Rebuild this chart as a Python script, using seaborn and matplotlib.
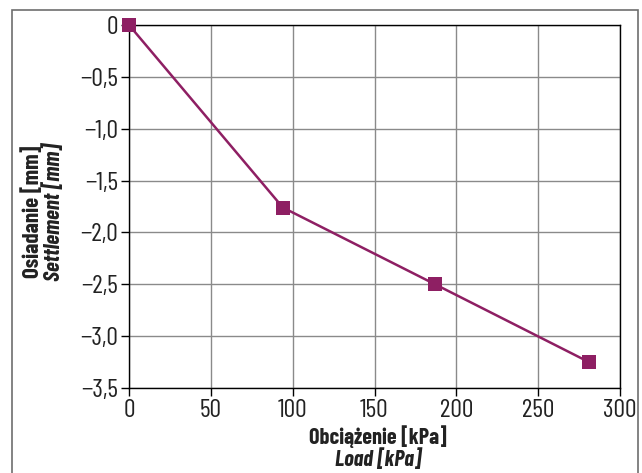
import matplotlib
matplotlib.use("Agg")
import matplotlib.pyplot as plt
import seaborn as sns
import pandas as pd
from matplotlib.patches import Rectangle

# data
load_kpa = [0, 94, 187, 281]
settlement_mm = [0.0, -1.76, -2.50, -3.25]
x_ticks = [0, 50, 100, 150, 200, 250, 300]
y_ticks = [0, -0.5, -1.0, -1.5, -2.0, -2.5, -3.0, -3.5]

df = pd.DataFrame({"load": load_kpa, "settlement": settlement_mm})

sns.set_style("white")
plt.rcParams['font.family'] = ['Barlow Condensed', 'DejaVu Sans']

fig = plt.figure(figsize=(6.42, 4.73), dpi=100)
ax = fig.add_axes([129 / 642, 1 - 388 / 473, (620 - 129) / 642, (388 - 25) / 473])

purple = '#8E1F63'
sns.lineplot(data=df, x="load", y="settlement", ax=ax, color=purple,
             linewidth=1.8, marker='s', markersize=10, markeredgewidth=0,
             clip_on=False, zorder=5)

ax.set_xlim(0, 300)
ax.set_ylim(-3.5, 0)
ax.set_xticks(x_ticks)
ax.set_xticklabels([str(t) for t in x_ticks])
ax.set_yticks(y_ticks)
ax.set_yticklabels(['0' if t == 0 else f"{t:.1f}".replace('.', ',').replace('-', '\u2212')
                    for t in y_ticks])
ax.tick_params(axis='both', direction='out', length=6, width=1, color='black',
               labelsize=18.5, pad=2, bottom=True, left=True, labelcolor='#222222')

ax.grid(True, color='#8a8a8a', linewidth=1)
for s in ax.spines.values():
    s.set_color('black')
    s.set_linewidth(1)

ax.set_xlabel('')
ax.set_ylabel('')
fig.text(378 / 642, 1 - 437 / 473, 'Obciążenie [kPa]', ha='center', va='center',
         fontsize=16, fontweight='bold', color='#222222')
fig.text(378 / 642, 1 - 459 / 473, 'Load [kPa]', ha='center', va='center',
         fontsize=16, fontweight='bold', fontstyle='italic', color='#222222')
fig.text(32 / 642, 1 - 212 / 473, 'Osiadanie [mm]', ha='center', va='center',
         rotation=90, fontsize=16.5, fontweight='bold', color='#222222')
fig.text(53 / 642, 1 - 212 / 473, 'Settlement [mm]', ha='center', va='center',
         rotation=90, fontsize=16.5, fontweight='bold', fontstyle='italic', color='#222222')

# outer frame
fig.patches.append(Rectangle((12 / 642, -0.05), (638 - 12) / 642, 1 - 10 / 473 + 0.05,
                             transform=fig.transFigure, fill=False,
                             edgecolor='#6e6e6e', linewidth=1.2))

fig.savefig('out.png', dpi=100)
